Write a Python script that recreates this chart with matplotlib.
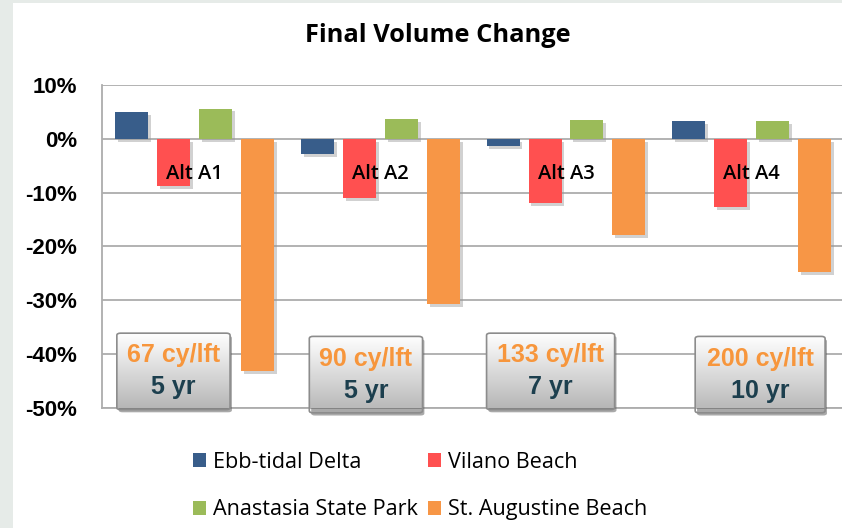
import matplotlib
matplotlib.use("Agg")
import matplotlib.pyplot as plt
import numpy as np
from matplotlib.patches import FancyBboxPatch, Rectangle, Patch
from matplotlib.colors import LinearSegmentedColormap
import matplotlib.patheffects as pe

# ---- data ----
categories = ["Alt A1", "Alt A2", "Alt A3", "Alt A4"]
series_names = ["Ebb-tidal Delta", "Vilano Beach", "Anastasia State Park", "St. Augustine Beach"]
ebb_tidal = [5.0, -2.9, -1.4, 3.3]
vilano = [-8.8, -11.0, -11.9, -12.7]
anastasia = [5.6, 3.7, 3.5, 3.3]
st_augustine = [-43.2, -30.7, -17.9, -24.7]
box_rate = ["67 cy/lft", "90 cy/lft", "133 cy/lft", "200 cy/lft"]
box_years = ["5 yr", "5 yr", "7 yr", "10 yr"]
yticks = [10, 0, -10, -20, -30, -40, -50]

# ---- layout/style ----
colors = ["#385D8A", "#FF5050", "#9BBB59", "#F79646"]
box_center_offset = [-0.115, -0.078, -0.083, 0.046]   # relative to category center
box_width = [0.61, 0.61, 0.69, 0.70]
box_y = [-50.3, -50.9, -50.3, -50.9]
box_h = 14.2
SANS = "Open Sans"

W, H = 842, 528
fig = plt.figure(figsize=(W / 100, H / 100), dpi=100)
fig.patch.set_facecolor("#E6EBE8")
fig.add_artist(Rectangle((13 / W, 0), (W - 13) / W, (H - 3) / H, transform=fig.transFigure,
                         facecolor="white", edgecolor="none", zorder=0))

ax = fig.add_axes([102 / W, 1 - 408 / H, 742.4 / W, (408 - 85) / H])
ax.set_facecolor("none")

step, bw = 0.226, 0.178
x = np.arange(len(categories))
all_series = [ebb_tidal, vilano, anastasia, st_augustine]
for j, (vals, name, c) in enumerate(zip(all_series, series_names, colors)):
    bars = ax.bar(x + (j - 1.5) * step, vals, width=bw, color=c, label=name, zorder=3)
    for b in bars:
        b.set_path_effects([pe.SimplePatchShadow(offset=(2, -2), shadow_rgbFace="#999999", alpha=0.45),
                            pe.Normal()])

ax.set_yticks(yticks)
ax.set_yticklabels([f"{v}%" for v in yticks], fontfamily="Liberation Sans",
                   fontweight="bold", fontsize=16)
ax.tick_params(axis="y", length=0, pad=18)
ax.set_xticks([])
ax.yaxis.grid(True, color="#ADADAD", lw=1.3, zorder=1)
ax.set_axisbelow(True)
for s in ["top", "right"]:
    ax.spines[s].set_visible(False)
for s in ["left", "bottom"]:
    ax.spines[s].set_color("#ADADAD")
    ax.spines[s].set_linewidth(1.3)

# category labels
for i, lab in enumerate(categories):
    ax.text(i, -6.6, lab, ha="center", va="center", fontsize=14.5, fontfamily=SANS,
            fontweight="semibold", color="black", zorder=5)

# gradient boxes
grad = np.linspace(1, 0, 256).reshape(-1, 1)
cmap = LinearSegmentedColormap.from_list("g", ["#B5B5B5", "#FFFFFF"])
for i in range(len(categories)):
    cx = i + box_center_offset[i]
    x0 = cx - box_width[i] / 2
    y0 = box_y[i]
    shadow = FancyBboxPatch((x0 + 0.01, y0 - 0.5), box_width[i], box_h,
                            boxstyle="round,pad=0,rounding_size=0.02",
                            facecolor="#555555", edgecolor="none", alpha=0.5, zorder=6,
                            mutation_aspect=20, clip_on=False)
    ax.add_patch(shadow)
    p = FancyBboxPatch((x0, y0), box_width[i], box_h,
                       boxstyle="round,pad=0,rounding_size=0.02",
                       facecolor="none", edgecolor="#8C8C8C", lw=1.2, zorder=8,
                       mutation_aspect=20, clip_on=False)
    ax.add_patch(p)
    im = ax.imshow(grad, extent=[x0, x0 + box_width[i], y0, y0 + box_h], aspect="auto",
                   cmap=cmap, vmin=0, vmax=1, zorder=7, interpolation="bilinear")
    im.set_clip_path(p)
    ax.text(cx, y0 + box_h * 0.71, box_rate[i], ha="center", va="center", fontsize=18,
            fontfamily="Liberation Sans", fontweight="bold", color="#F7963C", zorder=9)
    ax.text(cx, y0 + box_h * 0.29, box_years[i], ha="center", va="center", fontsize=18,
            fontfamily="Liberation Sans", fontweight="bold", color="#1C3F4E", zorder=9)
ax.set_xlim(-0.5, 3.5)
ax.set_ylim(-50, 10)

fig.text(438 / W, 1 - 35 / H, "Final Volume Change", ha="center", va="center",
         fontsize=18.3, fontweight="bold", fontfamily=SANS)

# legend filled row by row (matplotlib fills columns first)
order = [0, 2, 1, 3]
handles = [Patch(facecolor=colors[k], edgecolor="none") for k in order]
labels = [series_names[k] for k in order]
leg = fig.legend(handles, labels, loc="upper left", bbox_to_anchor=(193 / W, 1 - 452 / H),
                 ncol=2, frameon=False, prop={"family": SANS, "size": 15.6},
                 handlelength=0.6, handleheight=0.6, handletextpad=0.33,
                 columnspacing=0.46, labelspacing=1.22, borderpad=0, borderaxespad=0)

fig.savefig("out.png", dpi=100, facecolor=fig.get_facecolor())
